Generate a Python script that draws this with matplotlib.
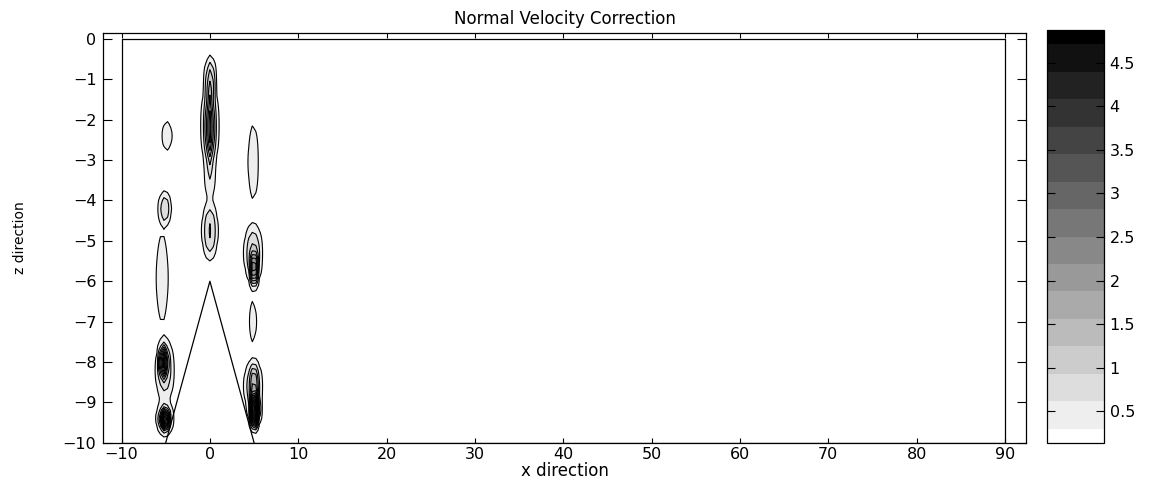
import numpy as np
import matplotlib
matplotlib.use("Agg")
import matplotlib.pyplot as plt
from matplotlib.ticker import FuncFormatter

plt.rcParams['font.family'] = ['DejaVu Sans']

# grid extent of the data (x direction, z direction)
x_range = [-10, 90]
z_range = [-10, 0]
base_value = 0.15

# blobs: centre x, centre z, peak, width x, width z
blob_x = [0.0, 0.05, 0.0, 0.0, 0.0,
          -4.85, 4.9, -5.1, -5.4, 4.85,
          4.9, 5.0,
          -5.1, -5.25,
          -5.1, -5.1,
          4.9, 5.0, 5.05]
blob_z = [-2.15, -1.0, -2.2, -3.5, -4.75,
          -2.4, -3.05, -4.2, -5.92, -7.0,
          -5.3, -5.7,
          -8.2, -8.0,
          -9.4, -9.42,
          -8.6, -8.55, -9.2]
blob_peak = [1.0, 0.8, 0.9, 0.35, 0.8,
             0.4, 0.45, 0.7, 0.35, 0.3,
             0.8, 1.7,
             0.7, 1.8,
             0.8, 2.5,
             0.8, 0.7, 4.3]
blob_wx = [0.62, 0.42, 0.28, 0.42, 0.6,
           0.42, 0.42, 0.5, 0.55, 0.36,
           0.7, 0.33,
           0.72, 0.33,
           0.66, 0.33,
           0.7, 0.3, 0.36]
blob_wz = [0.8, 0.4, 0.6, 0.38, 0.5,
           0.28, 0.7, 0.3, 0.9, 0.45,
           0.5, 0.32,
           0.55, 0.3,
           0.3, 0.18,
           0.45, 0.38, 0.3]
shape_power = 1.5

# the triangle
tri_x = [-5, 0, 5]
tri_z = [-10, -6, -10]

# contour levels / colorbar
cbar_min, cbar_max = 0.14, 4.875
inner_levels = np.linspace(0.30, 4.71, 15)
cbar_ticks = [0.5, 1, 1.5, 2, 2.5, 3, 3.5, 4, 4.5]

x = np.arange(x_range[0], x_range[1] + 0.001, 0.4)
z = np.arange(z_range[0], z_range[1] + 0.001, 0.1)
X, Z = np.meshgrid(x, z)
V = np.full_like(X, base_value)
for bx, bz, bp, wx, wz in zip(blob_x, blob_z, blob_peak, blob_wx, blob_wz):
    r2 = ((X - bx) / wx) ** 2 + ((Z - bz) / wz) ** 2
    V += bp * np.exp(-0.5 * r2 ** shape_power)

levels = [cbar_min] + list(inner_levels) + [cbar_max]
n_bands = len(levels) - 1
grays = np.linspace(1.0, 0.0, n_bands)
band_colors = [(g, g, g) for g in grays]

fig = plt.figure(figsize=(11.56, 4.86), dpi=100)
ax = fig.add_axes([0.0894, 0.0891, 0.7979, 0.8436])
cax = fig.add_axes([0.906, 0.0891, 0.049, 0.8491])

cs = ax.contourf(X, Z, V, levels=levels, colors=band_colors)
ax.contour(X, Z, V, levels=levels[1:-1], colors='k', linewidths=0.8)

# data border
ax.plot([x_range[0], x_range[1], x_range[1], x_range[0], x_range[0]],
        [z_range[0], z_range[0], z_range[1], z_range[1], z_range[0]],
        color='k', lw=0.9)
ax.plot(tri_x, tri_z, color='k', lw=0.9)

ax.set_xlim(-12.06, 92.34)
ax.set_ylim(-10, 0.156)
ax.set_xticks(range(-10, 91, 10))
ax.set_yticks(range(-10, 1, 1))
ax.tick_params(axis='x', direction='in', top=True, length=3.5, labelsize=11.5, pad=3)
ax.tick_params(axis='y', direction='in', right=True, length=6.5, labelsize=11.5, pad=5)
ax.set_title('Normal Velocity Correction', fontsize=12, pad=6)
ax.set_xlabel('x direction', fontsize=12, labelpad=0)
ax.set_ylabel('z direction', fontsize=10, labelpad=26)
for s in ax.spines.values():
    s.set_linewidth(0.9)

cb = fig.colorbar(cs, cax=cax, spacing='proportional')
cb.set_ticks(cbar_ticks)
cb.ax.yaxis.set_major_formatter(FuncFormatter(lambda v, p: f'{v:g}'))
cax.set_ylim(cbar_min, cbar_max)
cax.tick_params(axis='y', direction='in', left=True, right=True, length=5.5,
                labelsize=11.5, pad=4)
cb.outline.set_linewidth(0.9)

fig.savefig('out.png', dpi=100)
